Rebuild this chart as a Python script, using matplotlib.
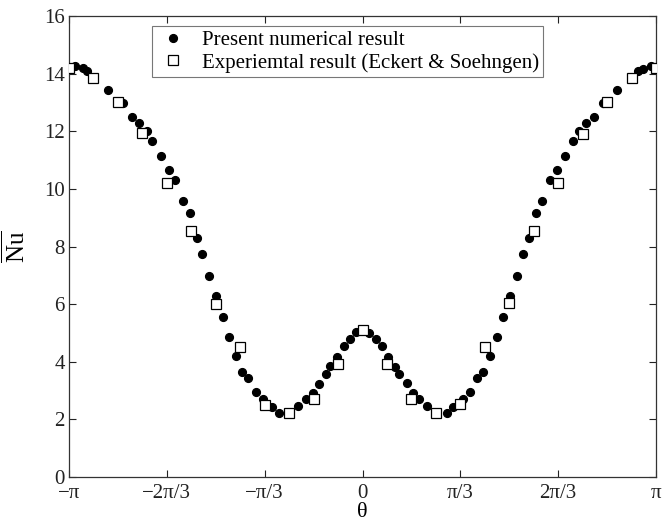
import numpy as np
import matplotlib
matplotlib.use("Agg")
import matplotlib.pyplot as plt

# numerical result: angle (deg) and mean Nusselt number
num_deg = [-176.3, -171.2, -168.8, -155.9, -147.1, -141.6, -136.9, -132.4, -129.1,
           -123.8, -118.5, -115.0, -109.9, -105.8, -101.7, -98.2, -94.0, -90.0,
           -85.7, -82.1, -77.8, -73.7, -70.0, -65.5, -61.2, -55.5, -51.0, -39.4,
           -34.7, -30.2, -26.5, -22.4, -19.9, -15.5, -11.3, -7.7, -4.2,
           4.2, 8.1, 11.8, 15.5, 19.9, 22.6, 27.1, 30.8, 34.8, 39.4, 51.6, 55.7,
           61.4, 65.9, 70.0, 74.1, 78.2, 82.3, 86.0, 90.5, 94.6, 98.2, 102.3,
           106.2, 109.9, 115.0, 119.1, 124.2, 129.3, 133.0, 137.1, 142.0, 147.3,
           156.3, 169.2, 171.8, 176.9]
num_nu = [14.25, 14.19, 14.10, 13.44, 12.98, 12.51, 12.28, 12.01, 11.67,
          11.15, 10.65, 10.31, 9.59, 9.16, 8.29, 7.74, 6.98, 6.28,
          5.57, 4.87, 4.20, 3.66, 3.43, 2.94, 2.70, 2.42, 2.21, 2.47,
          2.70, 2.93, 3.23, 3.58, 3.85, 4.18, 4.53, 4.79, 5.02,
          5.01, 4.79, 4.53, 4.18, 3.83, 3.57, 3.25, 2.93, 2.70, 2.47, 2.21, 2.42,
          2.70, 2.94, 3.43, 3.66, 4.20, 4.87, 5.57, 6.28, 6.98, 7.74, 8.29,
          9.16, 9.59, 10.31, 10.65, 11.15, 11.67, 12.01, 12.28, 12.51, 12.98,
          13.44, 14.10, 14.17, 14.25]

# experiment (Eckert & Soehngen)
exp_deg = [-180, -165, -150, -135, -120, -105, -90, -75, -60, -45, -30, -15, 0,
           15, 30, 45, 60, 75, 90, 105, 120, 135, 150, 165, 180]
exp_nu = [14.21, 13.84, 13.03, 11.93, 10.22, 8.55, 6.01, 4.51, 2.51, 2.21, 2.72, 3.91, 5.10,
          3.91, 2.71, 2.21, 2.52, 4.52, 6.03, 8.55, 10.22, 11.90, 13.03, 13.84, 14.21]

tick_pos = [-np.pi, -2*np.pi/3, -np.pi/3, 0, np.pi/3, 2*np.pi/3, np.pi]
tick_lab = ['\u2212\u03c0', '\u22122\u03c0/3', '\u2212\u03c0/3', '0', '\u03c0/3', '2\u03c0/3', '\u03c0']

plt.rcParams.update({
    "font.family": ["Liberation Serif", "DejaVu Serif"],
    "mathtext.fontset": "custom",
    "mathtext.rm": "Liberation Serif",
    "font.size": 15,
})

fig = plt.figure(figsize=(6.62, 5.25), dpi=100)
ax = fig.add_axes([0.1042, 0.0914, 0.8868, 0.8781])

ax.plot(np.deg2rad(num_deg), num_nu, 'o', color='black', markersize=5.6,
        label='Present numerical result', zorder=3)
ax.plot(np.deg2rad(exp_deg), exp_nu, 's', markerfacecolor='white',
        markeredgecolor='black', markersize=7.2, markeredgewidth=0.9,
        label='Experiemtal result (Eckert & Soehngen)', zorder=4)

ax.set_xlim(-np.pi, np.pi)
ax.set_ylim(0, 16)
ax.set_xticks(tick_pos)
ax.set_xticklabels(tick_lab)
ax.set_yticks(range(0, 17, 2))
ax.tick_params(direction='in', top=True, right=True, length=5, width=0.8,
               labelsize=15, colors='#222222', pad=3)
ax.tick_params(axis='x', pad=5)
for s in ax.spines.values():
    s.set_color('#333333')
    s.set_linewidth(0.9)

ax.set_xlabel('\u03b8', fontsize=16, labelpad=0)
ax.set_ylabel(r'$\overline{\mathrm{Nu}}$', fontsize=18, labelpad=10)

leg = ax.legend(loc='upper center', bbox_to_anchor=(0.475, 0.978), fontsize=15,
                frameon=True, fancybox=False, edgecolor='#555555',
                handletextpad=0.6, borderpad=0.2, labelspacing=0.15,
                handlelength=1.6, borderaxespad=0)
leg.get_frame().set_linewidth(0.8)

fig.savefig("out.png", dpi=100)
